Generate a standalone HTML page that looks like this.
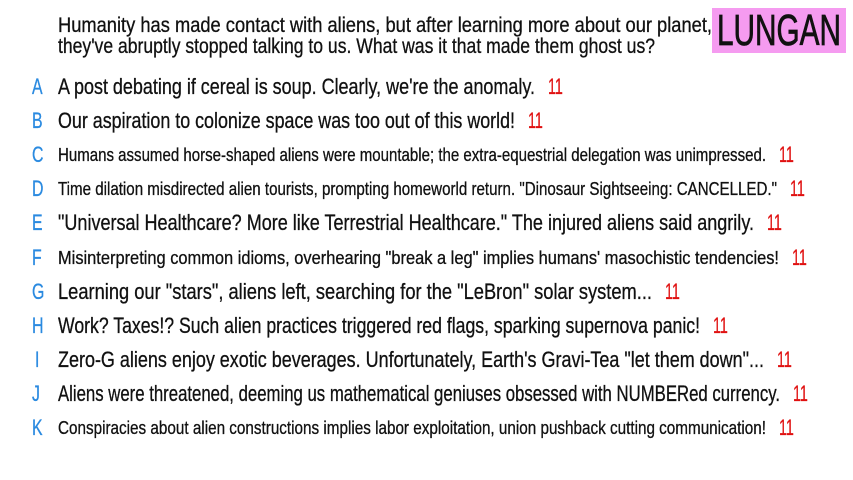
<!DOCTYPE html>
<html><head><meta charset="utf-8"><style>
body{margin:0;width:853px;height:480px;background:#fff;overflow:hidden;position:relative;font-family:"Liberation Sans Narrow","Liberation Sans",sans-serif;}
.fit{position:absolute;white-space:nowrap;transform-origin:0 50%;line-height:1;-webkit-text-stroke:0.3px #111;}
.q{font-size:21px;color:#111;}
.let{position:absolute;color:#2a8ae0;font-size:22px;line-height:1;transform:translateY(-50%) scaleX(0.72);transform-origin:0 50%;-webkit-text-stroke:0.3px #2a8ae0;}
.num{position:absolute;color:#e01010;font-size:22px;line-height:1;transform:translateY(-50%) scaleX(0.65);transform-origin:0 50%;-webkit-text-stroke:0.3px #e01010;}
#logo{position:absolute;left:712px;top:8px;width:134px;height:45px;background:#f59bf0;}
#logo span{position:absolute;left:5px;top:3px;font-size:44px;line-height:40px;color:#111;white-space:nowrap;transform-origin:0 0;-webkit-text-stroke:0.8px #111;}
</style></head><body>
<div id="logo"><span>LUNGAN</span></div>
<div class="fit q" data-w="654" style="left:58px;top:15px">Humanity has made contact with aliens, but after learning more about our planet,</div>
<div class="fit q" data-w="597" style="left:58px;top:36px">they've abruptly stopped talking to us. What was it that made them ghost us?</div>
<div id="rows"></div>
<script>
const letters=["A","B","C","D","E","F","G","H","I","J","K"];
const answers=["A post debating if cereal is soup. Clearly, we're the anomaly.","Our aspiration to colonize space was too out of this world!","Humans assumed horse-shaped aliens were mountable; the extra-equestrial delegation was unimpressed.","Time dilation misdirected alien tourists, prompting homeworld return. \"Dinosaur Sightseeing: CANCELLED.\"","\"Universal Healthcare? More like Terrestrial Healthcare.\" The injured aliens said angrily.","Misinterpreting common idioms, overhearing \"break a leg\" implies humans' masochistic tendencies!","Learning our \"stars\", aliens left, searching for the \"LeBron\" solar system...","Work? Taxes!? Such alien practices triggered red flags, sparking supernova panic!","Zero-G aliens enjoy exotic beverages. Unfortunately, Earth's Gravi-Tea \"let them down\"...","Aliens were threatened, deeming us mathematical geniuses obsessed with NUMBERed currency.","Conspiracies about alien constructions implies labor exploitation, union pushback cutting communication!"];
const scores=[11,11,11,11,11,11,11,11,11,11,11];
const numX=[548,528,779,790,767,792,665,713,777,793,779];
const small=[0,0,1,1,0,1,0,0,0,0,1];
const rows=document.getElementById('rows');
answers.forEach((a,i)=>{
  const y=87+i*34.1;
  const l=document.createElement('div');l.className='let';
  
  
  l.style.left=(letters[i]==="I"?35:32)+'px';l.style.top=y+'px';l.textContent=letters[i];rows.appendChild(l);
  const t=document.createElement('div');t.className='fit';
  
  
  const fs=small[i]?18:22;
  t.style.left='58px';t.style.fontSize=fs+'px';t.style.top=(y-fs/2)+'px';t.style.color='#111';
  t.textContent=a;t.dataset.w=numX[i]-13-58;rows.appendChild(t);
  const n=document.createElement('div');n.className='num';
  
  
  n.style.left=numX[i]+'px';n.style.top=y+'px';n.textContent=scores[i];rows.appendChild(n);
});
document.querySelectorAll('.fit').forEach(e=>{const w=e.getBoundingClientRect().width;e.style.transform='scaleX('+(e.dataset.w/w)+')';});
const ls=document.querySelector('#logo span');ls.style.transform='scaleX('+(124/ls.getBoundingClientRect().width)+')';
</script>
</body></html>
